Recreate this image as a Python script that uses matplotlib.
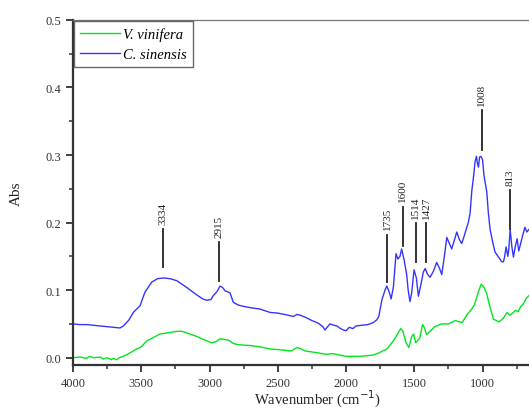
import numpy as np
import matplotlib.pyplot as plt
from matplotlib.ticker import MultipleLocator

# V. vinifera (green), 10 points per row
wn_vinifera = [4000, 3950, 3900, 3880, 3850, 3800, 3780, 3750, 3720, 3705,
               3680, 3660, 3634, 3600, 3533, 3500, 3460, 3400, 3363, 3300,
               3240, 3200, 3143, 3100, 3045, 2984, 2950, 2923, 2890, 2860,
               2826, 2780, 2700, 2630, 2557, 2500, 2400, 2360, 2340, 2300,
               2200, 2150, 2100, 2050, 2000, 1950, 1900, 1850, 1800, 1760,
               1720, 1700, 1680, 1650, 1620, 1600, 1585, 1560, 1540, 1520,
               1505, 1490, 1460, 1440, 1425, 1410, 1380, 1350, 1300, 1250,
               1200, 1170, 1150, 1113, 1080, 1060, 1030, 1010, 990, 970,
               950, 920, 880, 850, 820, 800, 780, 760, 740, 720,
               700, 680, 660]
abs_vinifera = [0.000, 0.001, -0.001, 0.002, 0.000, 0.001, -0.002, 0.000, -0.003, -0.001,
                -0.003, 0.000, 0.002, 0.005, 0.013, 0.016, 0.025, 0.031, 0.035, 0.037,
                0.039, 0.039, 0.035, 0.032, 0.027, 0.022, 0.024, 0.028, 0.027, 0.026,
                0.021, 0.019, 0.018, 0.016, 0.013, 0.012, 0.010, 0.015, 0.014, 0.010,
                0.007, 0.005, 0.006, 0.004, 0.002, 0.002, 0.002, 0.003, 0.004, 0.007,
                0.011, 0.013, 0.018, 0.026, 0.036, 0.043, 0.040, 0.022, 0.015, 0.031,
                0.035, 0.022, 0.029, 0.049, 0.044, 0.034, 0.040, 0.046, 0.050, 0.050,
                0.055, 0.053, 0.052, 0.064, 0.072, 0.078, 0.098, 0.109, 0.104, 0.095,
                0.078, 0.057, 0.053, 0.058, 0.067, 0.063, 0.066, 0.070, 0.068, 0.076,
                0.080, 0.088, 0.092]

# C. sinensis (blue), 10 points per row
wn_sinensis = [4000, 3950, 3900, 3850, 3800, 3750, 3700, 3656, 3631, 3590,
               3558, 3509, 3473, 3423, 3380, 3338, 3290, 3240, 3167, 3094,
               3050, 3021, 2990, 2972, 2945, 2923, 2905, 2886, 2850, 2826,
               2790, 2752, 2700, 2630, 2557, 2500, 2450, 2386, 2360, 2337,
               2300, 2250, 2203, 2170, 2154, 2135, 2117, 2090, 2068, 2040,
               2020, 2000, 1976, 1950, 1927, 1880, 1840, 1800, 1775, 1760,
               1738, 1715, 1702, 1685, 1670, 1653, 1640, 1634, 1620, 1605,
               1593, 1575, 1556, 1545, 1532, 1520, 1502, 1485, 1470, 1450,
               1434, 1420, 1405, 1385, 1360, 1336, 1315, 1299, 1280, 1262,
               1245, 1226, 1210, 1189, 1170, 1153, 1135, 1116, 1105, 1092,
               1079, 1065, 1055, 1045, 1038, 1030, 1022, 1012, 1000, 990,
               980, 969, 958, 945, 925, 908, 880, 860, 847, 838,
               828, 815, 808, 798, 786, 774, 760, 747, 735, 720,
               705, 690, 676, 660]
abs_sinensis = [0.050, 0.049, 0.049, 0.048, 0.047, 0.046, 0.045, 0.044, 0.047, 0.056,
                0.067, 0.077, 0.097, 0.112, 0.117, 0.118, 0.117, 0.114, 0.104, 0.093,
                0.087, 0.085, 0.086, 0.092, 0.098, 0.106, 0.104, 0.099, 0.096, 0.082,
                0.078, 0.076, 0.074, 0.072, 0.067, 0.066, 0.064, 0.061, 0.064, 0.063,
                0.060, 0.055, 0.051, 0.046, 0.041, 0.046, 0.050, 0.048, 0.047, 0.043,
                0.041, 0.040, 0.045, 0.043, 0.047, 0.048, 0.049, 0.052, 0.056, 0.061,
                0.085, 0.100, 0.106, 0.098, 0.087, 0.105, 0.140, 0.154, 0.146, 0.150,
                0.161, 0.145, 0.123, 0.100, 0.083, 0.095, 0.130, 0.118, 0.091, 0.110,
                0.127, 0.132, 0.124, 0.119, 0.128, 0.141, 0.132, 0.123, 0.150, 0.178,
                0.170, 0.161, 0.172, 0.186, 0.175, 0.169, 0.180, 0.193, 0.200, 0.213,
                0.247, 0.270, 0.290, 0.298, 0.288, 0.282, 0.297, 0.298, 0.293, 0.270,
                0.258, 0.245, 0.215, 0.190, 0.170, 0.156, 0.148, 0.142, 0.142, 0.150,
                0.164, 0.150, 0.160, 0.190, 0.165, 0.149, 0.165, 0.176, 0.158, 0.170,
                0.182, 0.193, 0.186, 0.190]

# peak markers: label, position, line bottom, line top
peak_labels = ['3334', '2915', '1735', '1600', '1514', '1427', '1008', '813']
peak_pos = [3341, 2930, 1697, 1585, 1489, 1414, 1006, 798]
peak_low = [0.134, 0.114, 0.112, 0.166, 0.142, 0.142, 0.308, 0.190]
peak_high = [0.190, 0.171, 0.182, 0.223, 0.199, 0.199, 0.366, 0.248]

plt.rcParams['font.family'] = 'Liberation Serif'

fig = plt.figure(figsize=(5.29, 4.10), dpi=100)
ax = fig.add_axes([0.138, 0.108, 0.862, 0.841])

ax.plot(wn_vinifera, abs_vinifera, color='#00e61e', lw=1.0, label='V. vinifera')
ax.plot(wn_sinensis, abs_sinensis, color='#3434ff', lw=1.0, label='C. sinensis')

for lab, p, lo, hi in zip(peak_labels, peak_pos, peak_low, peak_high):
    ax.plot([p, p], [lo, hi], color='#222222', lw=1.3)
    ax.annotate(lab, (p, hi), xytext=(0, 4), textcoords='offset points',
                rotation=90, ha='center', va='bottom', fontsize=8, color='#222222')

ax.set_xlim(4000, 660)
ax.set_ylim(-0.0104, 0.5)
ax.xaxis.set_major_locator(MultipleLocator(500))
ax.xaxis.set_minor_locator(MultipleLocator(250))
ax.yaxis.set_major_locator(MultipleLocator(0.1))
ax.yaxis.set_minor_locator(MultipleLocator(0.05))
ax.set_yticks([0.0, 0.1, 0.2, 0.3, 0.4, 0.5])
ax.set_yticklabels(['0.0', '0.1', '0.2', '0.3', '0.4', '0.5'])

for s in ['left', 'bottom']:
    ax.spines[s].set_linewidth(1.6)
    ax.spines[s].set_color('#333333')
ax.spines['top'].set_linewidth(0.9)
ax.spines['top'].set_color('#777777')
ax.spines['right'].set_visible(False)
ax.tick_params(which='major', direction='out', length=5, width=1.3, color='#333333',
               labelsize=9, labelcolor='#333333')
ax.tick_params(which='minor', direction='out', length=3, width=1.1, color='#333333')

fig.text(318 / 529, 1 - 399 / 410, 'Wavenumber (cm$^{-1}$)', fontsize=10.5,
         color='#222222', ha='center', va='center')
ax.set_ylabel('Abs', fontsize=11, color='#222222', labelpad=16)

leg = ax.legend(loc='upper left', bbox_to_anchor=(0, 1), borderaxespad=0.1,
                prop={'style': 'italic', 'size': 10.5}, fancybox=False,
                handlelength=2.7, handletextpad=0.25, borderpad=0.4, labelspacing=0.5)
leg.get_frame().set_edgecolor('#444444')
leg.get_frame().set_linewidth(1.0)

plt.savefig('out.png', dpi=100)
